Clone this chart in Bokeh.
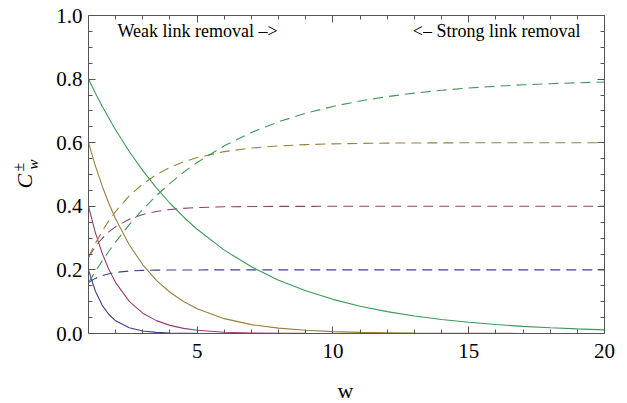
from bokeh.plotting import figure
from bokeh.models import (LinearAxis, FixedTicker, Range1d, Label, ColumnDataSource,
                          CustomJSTickFormatter, CustomLabelingPolicy)
from bokeh.embed import file_html
from bokeh.resources import INLINE
import numpy as np

# ---- data ----
w = [1, 1.25, 1.5, 1.75, 2, 2.5, 3, 3.5, 4, 4.5, 5, 6, 7, 8, 9, 10,
     11, 12, 13, 14, 15, 16, 17, 18, 19, 20]

# solid curves: C_w^-  (p = 0.2, 0.4, 0.6, 0.8)
minus_02 = [0.2, 0.1337, 0.0894, 0.0598, 0.04, 0.0179, 0.008, 0.0036, 0.0016, 0.0007, 0.0003, 0.0001, 0, 0, 0, 0,
            0, 0, 0, 0, 0, 0, 0, 0, 0, 0]
minus_04 = [0.4, 0.3181, 0.2530, 0.2012, 0.16, 0.1012, 0.064, 0.0405, 0.0256, 0.0162, 0.0102, 0.0041, 0.0016, 0.0007, 0.0003, 0.0001,
            0, 0, 0, 0, 0, 0, 0, 0, 0, 0]
minus_06 = [0.6, 0.5281, 0.4648, 0.4090, 0.36, 0.2789, 0.216, 0.1673, 0.1296, 0.1004, 0.0778, 0.0467, 0.0280, 0.0168, 0.0101, 0.0060,
            0.0036, 0.0022, 0.0013, 0.0008, 0.0005, 0.0003, 0.0002, 0.0001, 0.0001, 0]
minus_08 = [0.8, 0.7566, 0.7155, 0.6767, 0.64, 0.5724, 0.512, 0.4579, 0.4096, 0.3664, 0.3277, 0.2621, 0.2097, 0.1678, 0.1342, 0.1074,
            0.0859, 0.0687, 0.0550, 0.0440, 0.0352, 0.0282, 0.0225, 0.0180, 0.0144, 0.0115]

# dashed curves: C_w^+
plus_02 = [0.16, 0.1733, 0.1821, 0.1880, 0.192, 0.1964, 0.1984, 0.1993, 0.1997, 0.1999, 0.1999, 0.2, 0.2, 0.2, 0.2, 0.2,
           0.2, 0.2, 0.2, 0.2, 0.2, 0.2, 0.2, 0.2, 0.2, 0.2]
plus_04 = [0.24, 0.2728, 0.2988, 0.3195, 0.336, 0.3595, 0.3744, 0.3838, 0.3898, 0.3935, 0.3959, 0.3984, 0.3993, 0.3997, 0.3999, 0.4,
           0.4, 0.4, 0.4, 0.4, 0.4, 0.4, 0.4, 0.4, 0.4, 0.4]
plus_06 = [0.24, 0.2831, 0.3211, 0.3546, 0.384, 0.4327, 0.4704, 0.4996, 0.5222, 0.5398, 0.5533, 0.5720, 0.5832, 0.5899, 0.5940, 0.5964,
           0.5978, 0.5987, 0.5992, 0.5995, 0.5997, 0.5998, 0.5999, 0.5999, 0.6, 0.6]
plus_08 = [0.16, 0.1947, 0.2276, 0.2586, 0.288, 0.3421, 0.3904, 0.4337, 0.4723, 0.5069, 0.5379, 0.5903, 0.6322, 0.6658, 0.6926, 0.7141,
           0.7313, 0.7450, 0.7560, 0.7648, 0.7719, 0.7775, 0.7820, 0.7856, 0.7885, 0.7908]

x_major = [5, 10, 15, 20]
x_minor = [2, 3, 4, 6, 7, 8, 9, 11, 12, 13, 14, 16, 17, 18, 19]
y_major = [0.0, 0.2, 0.4, 0.6, 0.8, 1.0]
y_minor = [0.05, 0.1, 0.15, 0.25, 0.3, 0.35, 0.45, 0.5, 0.55, 0.65, 0.7, 0.75, 0.85, 0.9, 0.95]

x_label = "w"
note_left = "Weak link removal –>"
note_right = "<– Strong link removal"

colors = ["#3F3D99", "#993D74", "#99803D", "#3D9956"]

FONT = "Liberation Serif"
FRAME = "#555555"

# page layout: the data box spans x 1..20 over pixels 88..604 and y 0..1 over pixels 333..15
W, H = 627, 403
X0, X1, XPX0, XPX1 = 1.0, 20.0, 88.0, 604.0
Y0, Y1, YPX0, YPX1 = 0.0, 1.0, 333.0, 15.0
sx = (XPX1 - XPX0) / (X1 - X0)
sy = (YPX0 - YPX1) / (Y1 - Y0)
def dx(px):
    return X0 + (px - XPX0) / sx
def dy(py):
    return Y0 + (YPX0 - py) / sy

p = figure(width=W, height=H,
           x_range=Range1d(dx(0), dx(W)), y_range=Range1d(dy(H), dy(0)),
           output_backend="svg", toolbar_location=None,
           x_axis_location=None, y_axis_location=None,
           min_border=0, min_border_left=0, min_border_right=0,
           min_border_top=0, min_border_bottom=0)
p.xgrid.visible = False
p.ygrid.visible = False
p.outline_line_color = None
p.background_fill_color = "white"
p.border_fill_color = "white"

src = ColumnDataSource(dict(w=w, m2=minus_02, m4=minus_04, m6=minus_06, m8=minus_08,
                            p2=plus_02, p4=plus_04, p6=plus_06, p8=plus_08))
for key, c in zip(["2", "4", "6", "8"], colors):
    p.line("w", "p" + key, source=src, line_color=c, line_width=1.1, line_dash="10 6")
    p.line("w", "m" + key, source=src, line_color=c, line_width=1.1)

def make_axis(ticks, minor, loc, bounds, show_labels, standoff=0):
    ax = LinearAxis(ticker=FixedTicker(ticks=ticks, minor_ticks=minor),
                    fixed_location=loc, bounds=bounds)
    ax.axis_line_color = FRAME
    ax.major_tick_line_color = FRAME
    ax.minor_tick_line_color = FRAME
    ax.major_tick_in = 7
    ax.major_tick_out = 0
    ax.minor_tick_in = 4
    ax.minor_tick_out = 0
    ax.major_label_text_font = FONT
    ax.major_label_text_color = "black"
    ax.major_label_standoff = standoff
    if show_labels:
        ax.major_label_text_font_size = "21px"
    else:
        ax.major_label_text_font_size = "1px"
        ax.major_label_policy = CustomLabelingPolicy(code="""
            for (const i of Array.from(indices)) { indices.unset(i) }
            return indices
        """)
    return ax

bottom = make_axis(x_major, x_minor, Y0, (X0, X1), True, standoff=10)
top = make_axis(x_major, x_minor, Y1, (X0, X1), False)
left = make_axis(y_major, y_minor, X0, (Y0, Y1), True, standoff=6)
left.formatter = CustomJSTickFormatter(code="return tick.toFixed(1);")
right = make_axis(y_major, y_minor, X1, (Y0, Y1), False)
p.add_layout(bottom, "below")
p.add_layout(top, "above")
p.add_layout(left, "left")
p.add_layout(right, "right")

MID = 0.34  # distance from baseline to text middle, in em

def text_label(txt, px, py, size_px, align="left", style="normal", rotated=False):
    # (px, py): pixel position of the start/centre of the text baseline
    shift = MID * size_px
    if rotated:
        ax_, ay_, angle = px - shift, py, np.pi / 2
    else:
        ax_, ay_, angle = px, py - shift, 0.0
    return Label(x=dx(ax_), y=dy(ay_), text=txt, angle=angle,
                 text_font=FONT, text_font_style=style, text_font_size=f"{size_px}px",
                 text_align=align, text_baseline="middle", text_color="black")

# notes inside the box
p.add_layout(text_label(note_left, 117, 37, 18))
p.add_layout(text_label(note_right, 580, 37, 18, align="right"))

# x axis title
p.add_layout(text_label(x_label, 345, 397, 22, align="center"))

# y axis title C_w^± built from rotated pieces
p.add_layout(text_label("C", 31, 188, 22, style="italic", rotated=True))
p.add_layout(text_label("w", 38, 169, 15, style="italic", rotated=True))
p.add_layout(text_label("±", 23, 171, 16, rotated=True))

open("out.html", "w").write(file_html(p, INLINE))
